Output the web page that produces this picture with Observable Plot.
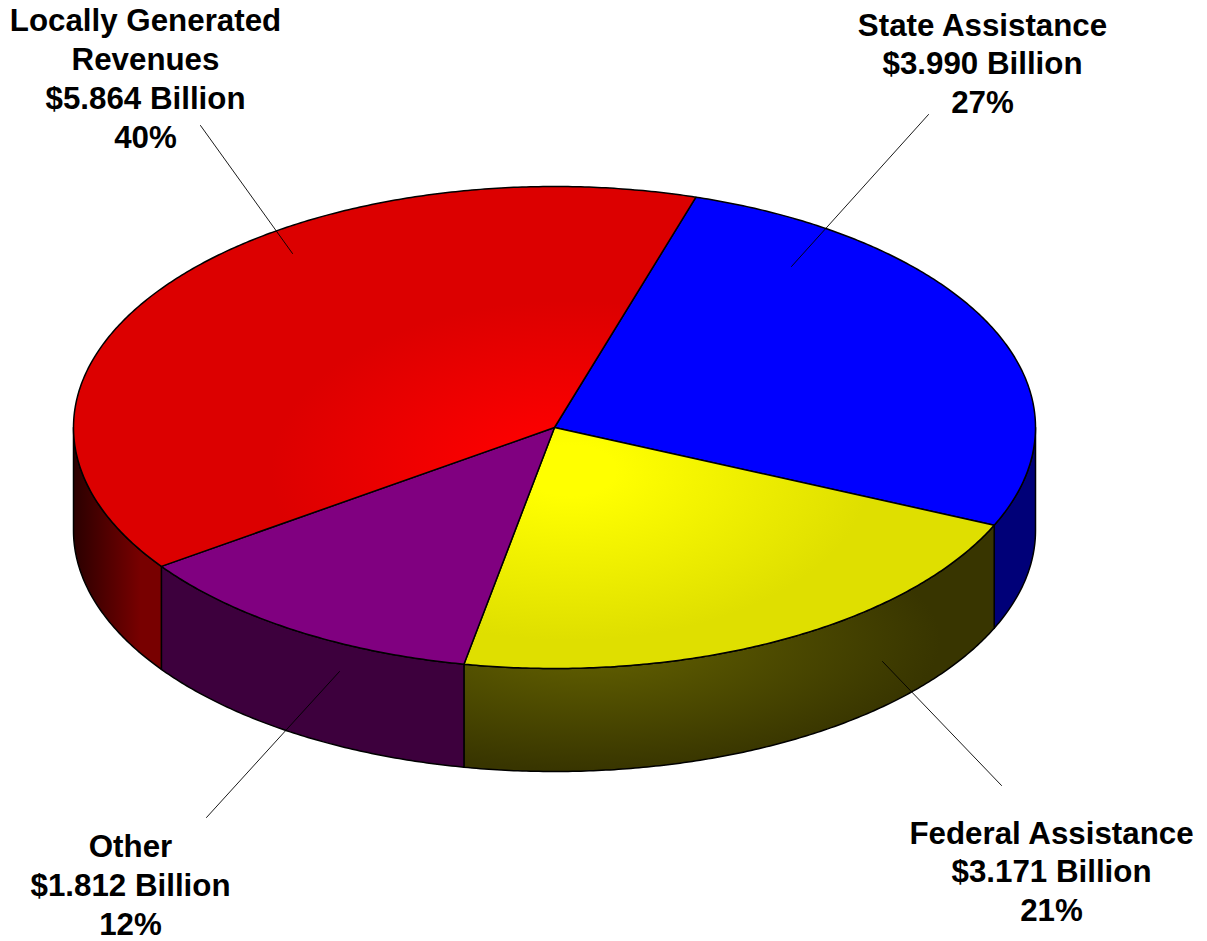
<!DOCTYPE html>
<html>
<head>
<meta charset="utf-8">
<style>html,body{margin:0;padding:0;background:#fff;overflow:hidden}svg{display:block}</style>
<script src="https://cdn.jsdelivr.net/npm/d3@7"></script>
<script src="https://cdn.jsdelivr.net/npm/@observablehq/plot@0.6"></script>
</head>
<body>
<script>
// Data, clockwise from the blue/red boundary
const categories = ["State Assistance", "Federal Assistance", "Other", "Locally Generated Revenues"];
const billions = [3.990, 3.171, 1.812, 5.864];
const labels = [
  "State Assistance\n$3.990 Billion\n27%",
  "Federal Assistance\n$3.171 Billion\n21%",
  "Other\n$1.812 Billion\n12%",
  "Locally Generated\nRevenues\n$5.864 Billion\n40%"
];

// Layout and style
const W = 1207, H = 941;
const pie = {cx: 554, cy: 427, rx: 481, ry: 241, depth: 103, start: 17.1};
const topFill = ["#0000ff", "url(#gYellow)", "#800080", "url(#gRed)"];
const sideFill = ["#000078", "url(#gYellowSide)", "#3d003d", "url(#gRedSide)"];
const labelAt = [[982, 61.5], [1051, 869.5], [130, 883], [145, 76.5]];
const leaders = [
  [[928, 114], [791, 266]],
  [[1001, 785], [882, 661]],
  [[206, 817], [339, 671]],
  [[200, 125], [292, 253]]
];

const total = d3.sum(billions);
const cum = d3.cumsum(billions);
const spans = billions.map((v, i) => {
  const end = pie.start + 360 * cum[i] / total;
  return [end - 360 * v / total, end];
});
const rim = (deg, dy = 0) => {
  const a = deg * Math.PI / 180;
  return {x: pie.cx + pie.rx * Math.sin(a), y: pie.cy + dy - pie.ry * Math.cos(a)};
};
const arc = (a0, a1, dy = 0) => {
  const n = Math.max(2, Math.ceil(Math.abs(a1 - a0) * 2));
  return d3.range(n + 1).map(k => rim(a0 + (a1 - a0) * k / n, dy));
};

const tops = spans.map(([a0, a1], i) =>
  [{x: pie.cx, y: pie.cy}, ...arc(a0, a1), {x: pie.cx, y: pie.cy}].map(p => ({...p, i})));

// walls only where the rim faces the viewer (90deg..270deg)
const walls = spans.map(([a0, a1], i) => {
  const s = Math.max(a0, 90), e = Math.min(a1, 270);
  if (s >= e) return [];
  const ring = [...arc(s, e), ...arc(e, s, pie.depth)];
  ring.push(ring[0]);
  return ring.map(p => ({...p, i}));
});

const radial = (id, cx, cy, rx, ry, stops) => `<radialGradient id="${id}" gradientUnits="userSpaceOnUse" cx="0" cy="0" r="1" gradientTransform="translate(${cx},${cy}) scale(${rx},${ry})">${stops.map(([o, c]) => `<stop offset="${o}" stop-color="${c}"/>`).join("")}</radialGradient>`;

const defsMark = () => {
  const g = document.createElementNS("http://www.w3.org/2000/svg", "g");
  g.innerHTML = `<defs>
    ${radial("gRed", 570, 470, 300, 170, [[0.15, "#ff0000"], [1, "#dc0000"]])}
    ${radial("gYellow", 570, 470, 300, 170, [[0.15, "#ffff00"], [1, "#dfdf00"]])}
    ${radial("gYellowSide", 590, 640, 350, 130, [[0.2, "#5c5a00"], [1, "#383500"]])}
    <linearGradient id="gRedSide" gradientUnits="userSpaceOnUse" x1="73" y1="0" x2="140" y2="0"><stop offset="0" stop-color="#2a0000"/><stop offset="1" stop-color="#780000"/></linearGradient>
  </defs>`;
  return g;
};

const shape = (rows, fill) => Plot.line(rows, {
  x: "x", y: "y", fill, stroke: "#000", strokeWidth: 1.5, curve: "linear", strokeLinejoin: "round"
});

const plot = Plot.plot({
  width: W, height: H, margin: 0,
  x: {domain: [0, W], range: [0, W], axis: null},
  y: {domain: [0, H], range: [0, H], axis: null},
  marks: [
    defsMark,
    ...walls.map((rows, i) => shape(rows, sideFill[i])),
    ...tops.map((rows, i) => shape(rows, topFill[i])),
    ...leaders.map(seg => Plot.line(seg, {x: d => d[0], y: d => d[1], stroke: "#000", strokeWidth: 0.9})),
    Plot.text(labels, {
      x: (d, i) => labelAt[i][0],
      y: (d, i) => labelAt[i][1],
      text: d => d,
      lineAnchor: "middle",
      lineHeight: 1.245,
      textAnchor: "middle",
      fontFamily: "'Liberation Sans', Arial, sans-serif",
      fontWeight: "bold",
      fontSize: 31.3,
      fill: "#000"
    })
  ]
});
plot.style.fontFamily = "'Liberation Sans', Arial, sans-serif";
document.body.appendChild(plot);
</script>
</body>
</html>
